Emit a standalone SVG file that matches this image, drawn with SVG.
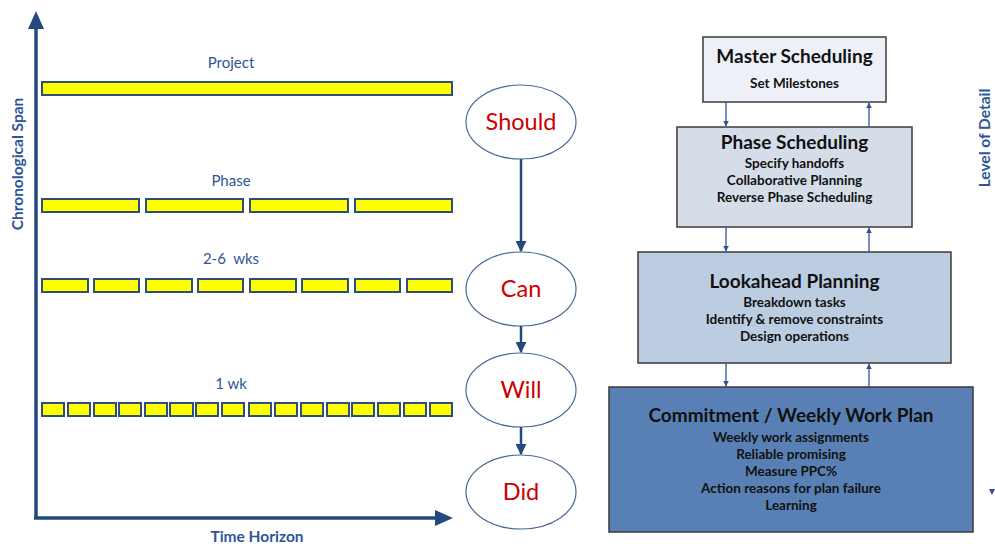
<svg xmlns="http://www.w3.org/2000/svg" width="995" height="544" viewBox="0 0 995 544">
<style>
text{font-family:Lato,"Liberation Sans",sans-serif}
.axis{stroke:#23497f;stroke-width:3.5;fill:none}
.bar{fill:#ffff00;stroke:#2e4f7e;stroke-width:2}
.lbl{fill:#2f5597;font-size:15px;text-anchor:middle}
.axl{fill:#2f5597;font-size:15.5px;font-weight:bold;text-anchor:middle}
.ell{fill:#fff;stroke:#4a6796;stroke-width:1.2}
.et{fill:#cc0000;font-size:23.5px;text-anchor:middle}
.con{stroke:#23497f;stroke-width:2.5;fill:none}
.bc{stroke:#2f5597;stroke-width:1.3;fill:none}
.box{stroke:#3a3a3a;stroke-width:1.5}
.bt{fill:#111;font-weight:bold;text-anchor:middle}
.h{font-size:19px}
.s{font-size:13.5px}
</style>
<defs>
<marker id="sh" viewBox="0 0 10 10" refX="9" refY="5" markerWidth="6" markerHeight="6" markerUnits="userSpaceOnUse" orient="auto"><path d="M0,0L10,5L0,10z" fill="#2f5597"/></marker>
<marker id="mh" viewBox="0 0 10 10" refX="9" refY="5" markerWidth="11" markerHeight="11" markerUnits="userSpaceOnUse" orient="auto"><path d="M0,0L10,5L0,10z" fill="#23497f"/></marker>
</defs>

<g id="axes">
<path class="axis" d="M36,518V28"/>
<path d="M28,29L36,11L44,29z" fill="#23497f"/>
<path class="axis" d="M34,518H436"/>
<path d="M435,510L453,518L435,526z" fill="#23497f"/>
<text class="axl" transform="translate(23,164) rotate(-90)">Chronological Span</text>
<text class="axl" x="257" y="542">Time Horizon</text>
</g>

<g id="project">
<text class="lbl" x="231" y="68">Project</text>
<rect class="bar" x="42" y="82" width="410" height="13"/>
</g>
<g id="phase">
<text class="lbl" x="231" y="186">Phase</text>
<rect class="bar" x="42" y="199" width="97" height="13"/>
<rect class="bar" x="146" y="199" width="97" height="13"/>
<rect class="bar" x="250" y="199" width="98" height="13"/>
<rect class="bar" x="355" y="199" width="97" height="13"/>
</g>
<g id="weeks26">
<text class="lbl" x="231" y="264" xml:space="preserve">2-6  wks</text>
<rect class="bar" x="42" y="279" width="46" height="13"/>
<rect class="bar" x="94" y="279" width="45" height="13"/>
<rect class="bar" x="146" y="279" width="46" height="13"/>
<rect class="bar" x="198" y="279" width="45" height="13"/>
<rect class="bar" x="250" y="279" width="46" height="13"/>
<rect class="bar" x="302" y="279" width="46" height="13"/>
<rect class="bar" x="355" y="279" width="45" height="13"/>
<rect class="bar" x="407" y="279" width="45" height="13"/>
</g>
<g id="week1">
<text class="lbl" x="231" y="389">1 wk</text>
<rect class="bar" x="42" y="403" width="22" height="13"/>
<rect class="bar" x="68" y="403" width="22" height="13"/>
<rect class="bar" x="94" y="403" width="22" height="13"/>
<rect class="bar" x="119" y="403" width="22" height="13"/>
<rect class="bar" x="145" y="403" width="22" height="13"/>
<rect class="bar" x="170" y="403" width="23" height="13"/>
<rect class="bar" x="196" y="403" width="22" height="13"/>
<rect class="bar" x="222" y="403" width="22" height="13"/>
<rect class="bar" x="249" y="403" width="22" height="13"/>
<rect class="bar" x="275" y="403" width="22" height="13"/>
<rect class="bar" x="301" y="403" width="22" height="13"/>
<rect class="bar" x="327" y="403" width="22" height="13"/>
<rect class="bar" x="352" y="403" width="22" height="13"/>
<rect class="bar" x="378" y="403" width="22" height="13"/>
<rect class="bar" x="404" y="403" width="22" height="13"/>
<rect class="bar" x="430" y="403" width="22" height="13"/>
</g>

<g id="should"><ellipse class="ell" cx="521" cy="122" rx="55" ry="37"/><text class="et" x="521" y="130">Should</text></g>
<g id="can"><ellipse class="ell" cx="521" cy="289" rx="55" ry="37"/><text class="et" x="521" y="297">Can</text></g>
<g id="will"><ellipse class="ell" cx="521" cy="390" rx="55" ry="37"/><text class="et" x="521" y="398">Will</text></g>
<g id="did"><ellipse class="ell" cx="521" cy="492" rx="55" ry="37"/><text class="et" x="521" y="500">Did</text></g>

<g id="master"><rect class="box" x="703" y="37" width="183" height="65" fill="#edf1f7"/>
<text class="bt h" x="794.5" y="63">Master Scheduling</text>
<text class="bt s" x="794.5" y="88">Set Milestones</text></g>
<g id="phasesched"><rect class="box" x="677" y="127" width="235" height="100" fill="#d5dde8"/>
<text class="bt h" x="794.5" y="149">Phase Scheduling</text>
<text class="bt s" x="794.5" y="168">Specify handoffs</text>
<text class="bt s" x="794.5" y="185">Collaborative Planning</text>
<text class="bt s" x="794.5" y="202">Reverse Phase Scheduling</text></g>
<g id="lookahead"><rect class="box" x="638" y="252" width="313" height="111" fill="#bccce1"/>
<text class="bt h" x="794.5" y="288">Lookahead Planning</text>
<text class="bt s" x="794.5" y="307">Breakdown tasks</text>
<text class="bt s" x="794.5" y="324">Identify &amp; remove constraints</text>
<text class="bt s" x="794.5" y="341">Design operations</text></g>
<g id="commitment"><rect class="box" x="609" y="387" width="364" height="145" fill="#5980b4"/>
<text class="bt h" x="791" y="422">Commitment / Weekly Work Plan</text>
<text class="bt s" x="791" y="442">Weekly work assignments</text>
<text class="bt s" x="791" y="459">Reliable promising</text>
<text class="bt s" x="791" y="476">Measure PPC%</text>
<text class="bt s" x="791" y="493">Action reasons for plan failure</text>
<text class="bt s" x="791" y="510">Learning</text></g>

<g id="lod">
<text class="axl" transform="translate(990,138) rotate(-90)">Level of Detail</text>
<path d="M989,489L995,489L992,495z" fill="#2f5597"/>
</g>

<g id="connectors">
<path class="con" d="M521,159V251" marker-end="url(#mh)"/>
<path class="con" d="M521,326V352" marker-end="url(#mh)"/>
<path class="con" d="M521,427V454" marker-end="url(#mh)"/>
<path class="bc" d="M726,102V126" marker-end="url(#sh)"/>
<path class="bc" d="M869,127V103" marker-end="url(#sh)"/>
<path class="bc" d="M726,227V251" marker-end="url(#sh)"/>
<path class="bc" d="M869,252V228" marker-end="url(#sh)"/>
<path class="bc" d="M726,363V386" marker-end="url(#sh)"/>
<path class="bc" d="M869,387V364" marker-end="url(#sh)"/>
</g>
</svg>
